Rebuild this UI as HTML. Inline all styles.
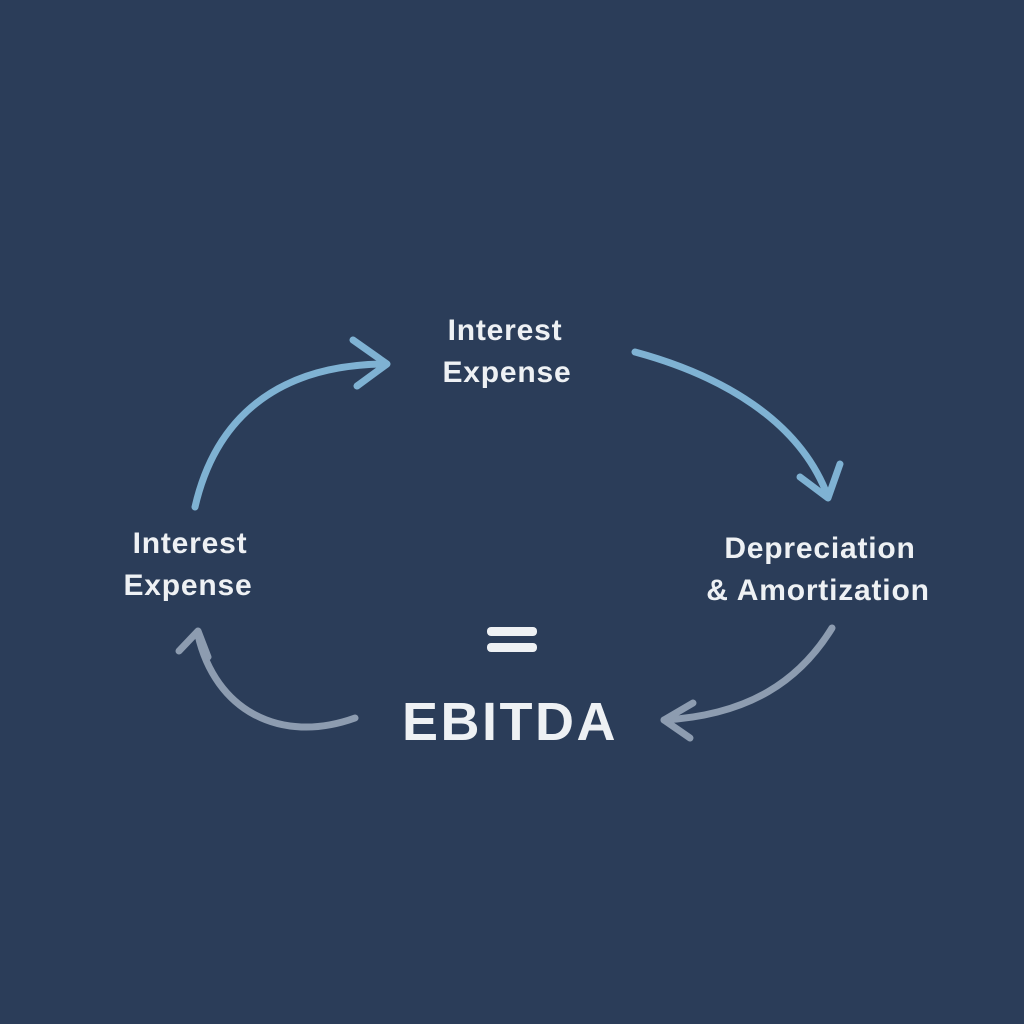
<!DOCTYPE html>
<html><head><style>
html,body{margin:0;padding:0;width:1024px;height:1024px;background:#2b3d59;overflow:hidden}
svg{display:block}
text{font-family:"Liberation Sans",sans-serif;font-weight:bold;fill:#eef1f4;text-anchor:middle}
</style></head><body>
<svg width="1024" height="1024" viewBox="0 0 1024 1024">
<rect width="1024" height="1024" fill="#2b3d59"/>
<g fill="none" stroke-linecap="round" stroke-linejoin="round" stroke-width="7">
<path d="M195 507 C215 420 275 365 385 364" stroke="#7fb2d3"/>
<path d="M353 340 L387 364 L357 386" stroke="#7fb2d3"/>
<path d="M635 352 C720 375 800 420 828 497" stroke="#7fb2d3"/>
<path d="M800 477 L828 498 L840 464" stroke="#7fb2d3"/>
<path d="M832 628 C800 680 750 715 664 720" stroke="#8d9cb0"/>
<path d="M693 703 L664 720 L690 738" stroke="#8d9cb0"/>
<path d="M355 718 C280 745 215 710 198 635" stroke="#8d9cb0"/>
<path d="M179 651 L198 631 L208 657" stroke="#8d9cb0"/>
</g>
<g font-size="30" letter-spacing="0.8">
<text x="505" y="340">Interest</text>
<text x="507" y="382">Expense</text>
<text x="190" y="553">Interest</text>
<text x="188" y="595">Expense</text>
<text x="820" y="558">Depreciation</text>
<text x="818" y="600">&amp; Amortization</text>
</g>
<rect x="487" y="627" width="50" height="9" rx="4" fill="#eef1f4"/>
<rect x="487" y="643" width="50" height="9" rx="4" fill="#eef1f4"/>
<text x="510" y="740" font-size="54" letter-spacing="2.5">EBITDA</text>
</svg>
</body></html>
